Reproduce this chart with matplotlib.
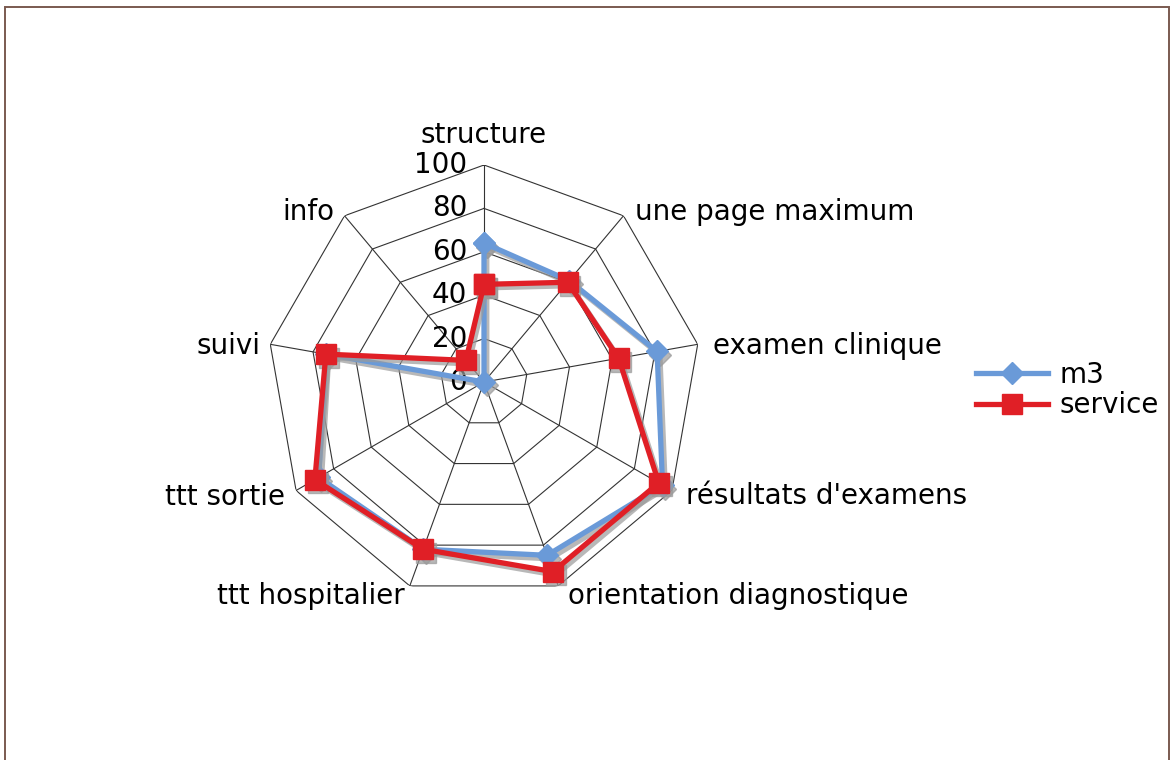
import numpy as np
import matplotlib
matplotlib.use("Agg")
import matplotlib.pyplot as plt
from matplotlib.lines import Line2D
from matplotlib.patches import Rectangle
from matplotlib.transforms import ScaledTranslation

categories = ["structure", "une page maximum", "examen clinique",
              "résultats d'examens", "orientation diagnostique",
              "ttt hospitalier", "ttt sortie", "suivi", "info"]
m3 = [64, 61, 81, 95, 85, 82, 88, 74, 0]
service = [45, 60, 63, 93, 93, 82, 90, 74, 13]
rings = [0, 20, 40, 60, 80, 100]

# label placement (offset in pixels from the outer vertex, alignment)
label_layout = [((0, 30), "center"), ((12, 4), "left"), ((15, -2), "left"),
                ((14, -6), "left"), ((10, -10), "left"), ((-5, -10), "right"),
                ((-11, -6), "right"), ((-10, -2), "right"), ((-10, 4), "right")]

W, H = 1173, 760
cx, cy, R = 484, 382, 217

fig = plt.figure(figsize=(W / 100, H / 100), dpi=100)
fig.patch.set_facecolor("white")

# outer frame
fig.add_artist(Rectangle((5 / W, -0.05), (1169 - 5) / W, 1.05 - 7 / H,
                         transform=fig.transFigure, fill=False,
                         edgecolor="#7a5a50", lw=1.4))

ax = fig.add_axes([(cx - R) / W, (H - cy - R) / H, 2 * R / W, 2 * R / H],
                  projection="polar")
ax.set_theta_offset(np.pi / 2)
ax.set_theta_direction(-1)
ax.set_ylim(0, 100)
ax.grid(False)
ax.spines["polar"].set_visible(False)
ax.set_xticks([])
ax.set_yticks([])
ax.patch.set_alpha(0)

n = len(categories)
angles = np.linspace(0, 2 * np.pi, n, endpoint=False)
closed = np.append(angles, angles[0])

# polygon grid
for r in rings[1:]:
    ax.plot(closed, [r] * (n + 1), color="#333333", lw=0.8, zorder=1)
for a in angles:
    ax.plot([a, a], [0, 100], color="#333333", lw=0.8, zorder=1)

# radial tick labels
for r in rings:
    ax.annotate(str(r), xy=(0, r), xytext=(-17, 0), textcoords="offset pixels",
                ha="right", va="center", fontsize=20, color="black")

# category labels
for a, lab, (off, ha) in zip(angles, categories, label_layout):
    ax.annotate(lab, xy=(a, 100), xytext=off, textcoords="offset pixels",
                ha=ha, va="center", fontsize=20, color="black",
                annotation_clip=False)

blue = "#6a9ad8"
red = "#e01f26"
shadow_tr = ax.transData + ScaledTranslation(2 / 72, -2.5 / 72, fig.dpi_scale_trans)

series = [(m3, blue, "D", 11), (service, red, "s", 15)]
for z, (vals, col, mk, ms) in enumerate(series):
    v = vals + vals[:1]
    ax.plot(closed, v, color="#9a9a9a", lw=3.8, marker=mk, ms=ms, mec="#9a9a9a",
            alpha=0.7, transform=shadow_tr, zorder=2 + 2 * z, clip_on=False)
    ax.plot(closed, v, color=col, lw=3.8, marker=mk, ms=ms, mec=col,
            zorder=3 + 2 * z, clip_on=False)

handles = [Line2D([], [], color=blue, lw=3.8, marker="D", ms=11),
           Line2D([], [], color=red, lw=3.8, marker="s", ms=15)]
fig.legend(handles, ["m3", "service"], loc="center left",
           bbox_to_anchor=(976 / W, 1 - 390 / H), frameon=False,
           fontsize=20, handlelength=2.6, handletextpad=0.4,
           labelspacing=0.1, borderpad=0, borderaxespad=0)

fig.savefig("out.png", dpi=100)
